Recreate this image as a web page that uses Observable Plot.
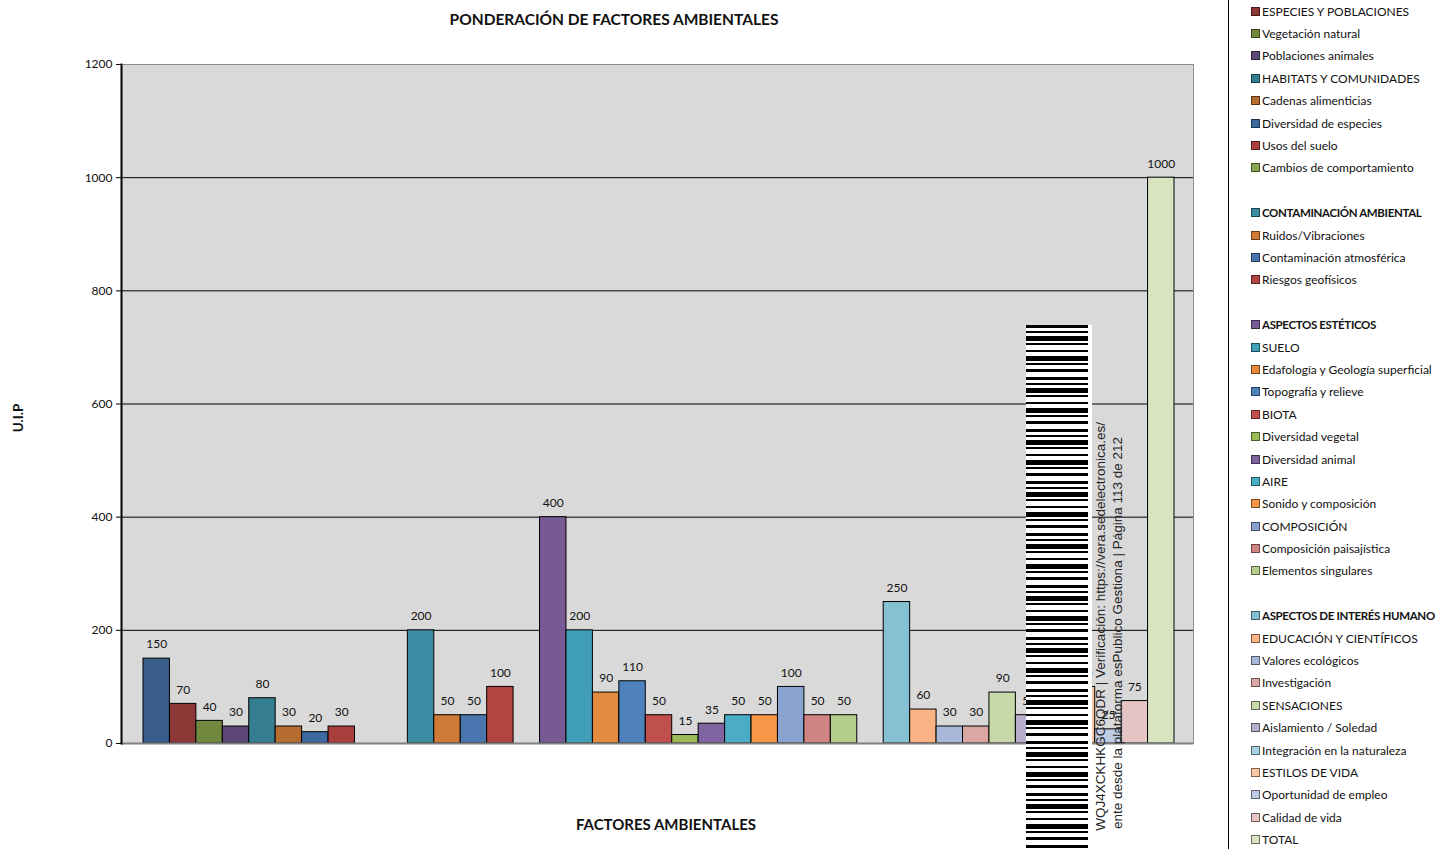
<!DOCTYPE html>
<html>
<head>
<meta charset="utf-8">
<script src="https://cdn.jsdelivr.net/npm/d3@7"></script>
<script src="https://cdn.jsdelivr.net/npm/@observablehq/plot@0.6"></script>
<style>
  html, body { margin: 0; padding: 0; background: #fff; }
  body { width: 1442px; height: 849px; overflow: hidden; position: relative; font-family: Lato, "Open Sans", sans-serif; color: #111; }
  #chart { position: absolute; left: 0; top: 0; }
  .title { position: absolute; left: 364px; width: 500px; top: 10px; text-align: center; font-weight: bold; font-size: 15.5px; }
  .xlabel { position: absolute; left: 416px; width: 500px; top: 815px; text-align: center; font-weight: bold; font-size: 15px; }
  .ylabel { position: absolute; left: 18px; top: 418px; transform: translate(-50%, -50%) rotate(-90deg); font-weight: bold; font-size: 13.5px; white-space: nowrap; }
  .divider { position: absolute; left: 1228px; top: 0; width: 1px; height: 849px; background: #000; }
  #legend { position: absolute; left: 1251px; top: 0px; font-size: 12px; }
  .item { height: 22.4px; display: flex; align-items: center; white-space: nowrap; }
  .sw { width: 7px; height: 7px; border: 1px solid #222; margin-right: 2px; flex: none; }
  .bold { font-weight: bold; font-size: 11.5px; letter-spacing: -0.35px; }
  .barcode { position: absolute; left: 1026px; top: 325px; width: 66px; height: 530px; background:
      repeating-linear-gradient(to bottom,
        #000 0px, #000 3px, #fff 3px, #fff 6px, #000 6px, #000 8px, #fff 8px, #fff 11px,
        #000 11px, #000 16px, #fff 16px, #fff 18px, #000 18px, #000 20px, #fff 20px, #fff 25px,
        #000 25px, #000 27px, #fff 27px, #fff 31px, #000 31px, #000 36px, #fff 36px, #fff 38px,
        #000 38px, #000 40px, #fff 40px, #fff 44px, #000 44px, #000 47px, #fff 47px, #fff 52px);
      background-size: 62px 52px; background-repeat: repeat-y; background-color: #fff; }
  .stamp { position: absolute; width: 900px; text-align: right; transform-origin: 0 0; transform: rotate(-90deg);
      font-family: "Liberation Sans", Arial, sans-serif; font-size: 13.5px; line-height: 16px; color: #222; white-space: nowrap; }
</style>
</head>
<body>
<div id="chart"></div>
<div class="title">PONDERACIÓN DE FACTORES AMBIENTALES</div>
<div class="xlabel">FACTORES AMBIENTALES</div>
<div class="ylabel">U.I.P</div>
<div class="divider"></div>
<div id="legend"></div>
<div class="barcode"></div>
<div class="stamp" style="left:1093px; top:1322px;">WQJ4XCKHKGC6QDR | Verificación: https://vera.sedelectronica.es/</div>
<div class="stamp" style="left:1110px; top:1337px;">ente desde la plataforma esPublico Gestiona | Página 113 de 212</div>
<script>
// ---- Data ----
const factores = [
  "MEDIO BIÓTICO",
  "ESPECIES Y POBLACIONES",
  "Vegetación natural",
  "Poblaciones animales",
  "HABITATS Y COMUNIDADES",
  "Cadenas alimenticias",
  "Diversidad de especies",
  "Usos del suelo",
  "Cambios de comportamiento",
  " ",
  "CONTAMINACIÓN AMBIENTAL",
  "Ruidos/Vibraciones",
  "Contaminación atmosférica",
  "Riesgos geofísicos",
  "  ",
  "ASPECTOS ESTÉTICOS",
  "SUELO",
  "Edafología y Geología superficial",
  "Topografía y relieve",
  "BIOTA",
  "Diversidad vegetal",
  "Diversidad animal",
  "AIRE",
  "Sonido y composición",
  "COMPOSICIÓN",
  "Composición paisajística",
  "Elementos singulares",
  "   ",
  "ASPECTOS DE INTERÉS HUMANO",
  "EDUCACIÓN Y CIENTÍFICOS",
  "Valores ecológicos",
  "Investigación",
  "SENSACIONES",
  "Aislamiento / Soledad",
  "Integración en la naturaleza",
  "ESTILOS DE VIDA",
  "Oportunidad de empleo",
  "Calidad de vida",
  "TOTAL"
];
const valores = [
  150, 70, 40, 30, 80, 30, 20, 30, null, null,
  200, 50, 50, 100, null,
  400, 200, 90, 110, 50, 15, 35, 50, 50, 100, 50, 50, null,
  250, 60, 30, 30, 90, 50, 40, 100, 25, 75, 1000
];
const colores = [
  "#385D8A", "#8C3836", "#71893F", "#5C4776", "#357D91", "#B66D31", "#3C6AA0", "#A9403E", "#8AA64F", null,
  "#3B8CA3", "#D07A38", "#4A76B0", "#B04542", null,
  "#775A94", "#419EB8", "#E58B3F", "#4F81BD", "#C0504D", "#9BBB59", "#8064A2", "#4BACC6", "#F79646", "#89A2CF", "#D08582", "#B5CD8B", null,
  "#85C0D3", "#FAB385", "#A7B8D8", "#DBA6A4", "#C7D8A9", "#B8ADCA", "#A6D1DF", "#FBC8A5", "#BDCBE4", "#E5C4C3", "#D8E4C0"
];
const encabezados = ["CONTAMINACIÓN AMBIENTAL", "ASPECTOS ESTÉTICOS", "ASPECTOS DE INTERÉS HUMANO"];
const yTicks = [0, 200, 400, 600, 800, 1000, 1200];
const gridVals = [200, 400, 600, 800, 1000];

// ---- Chart ----
const data = factores.map((f, i) => ({factor: f, valor: valores[i], color: colores[i]}));
const shown = data.filter(d => d.valor != null && d.valor > 0);

const chart = Plot.plot({
  width: 1228,
  height: 849,
  marginLeft: 121,
  marginRight: 35,
  marginTop: 64,
  marginBottom: 106,
  style: {fontFamily: "Lato, 'Open Sans', sans-serif", fontSize: "12px", background: "transparent", color: "#111"},
  x: {type: "band", domain: factores, paddingInner: 0, paddingOuter: 0, round: false, insetLeft: 22, insetRight: 19, axis: null},
  y: {domain: [0, 1200], axis: null},
  color: {type: "identity"},
  marks: [
    Plot.frame({fill: "#D9D9D9", stroke: "#8C8C8C"}),
    Plot.ruleY(gridVals, {stroke: "#000", strokeWidth: 1}),
    Plot.axisY({ticks: yTicks, tickSize: 5, tickPadding: 4, tickFormat: d => String(d), fontSize: 12, stroke: "#000", label: null}),
    Plot.barY(shown, {x: "factor", y: "valor", fill: "color", stroke: "#000", strokeWidth: 1, inset: 0}),
    Plot.text(shown, {x: "factor", y: "valor", text: d => String(d.valor), dy: -14, fontSize: 12, fill: "#111"}),
    Plot.ruleY([0], {stroke: "#808080", strokeWidth: 2}),
    Plot.frame({anchor: "left", stroke: "#000", strokeWidth: 2})
  ]
});
document.getElementById("chart").appendChild(chart);

// ---- Legend (first entry falls above the visible crop of the reference) ----
const legend = d3.select("#legend");
data.slice(1).forEach(d => {
  const it = legend.append("div").attr("class", "item");
  if (d.color) {
    it.append("div").attr("class", "sw")
      .style("background", d.color)
      .style("border-color", d3.color(d.color).darker(2).formatHex());
    it.append("span").attr("class", encabezados.includes(d.factor) ? "bold" : null).text(d.factor);
  }
});
</script>
</body>
</html>
